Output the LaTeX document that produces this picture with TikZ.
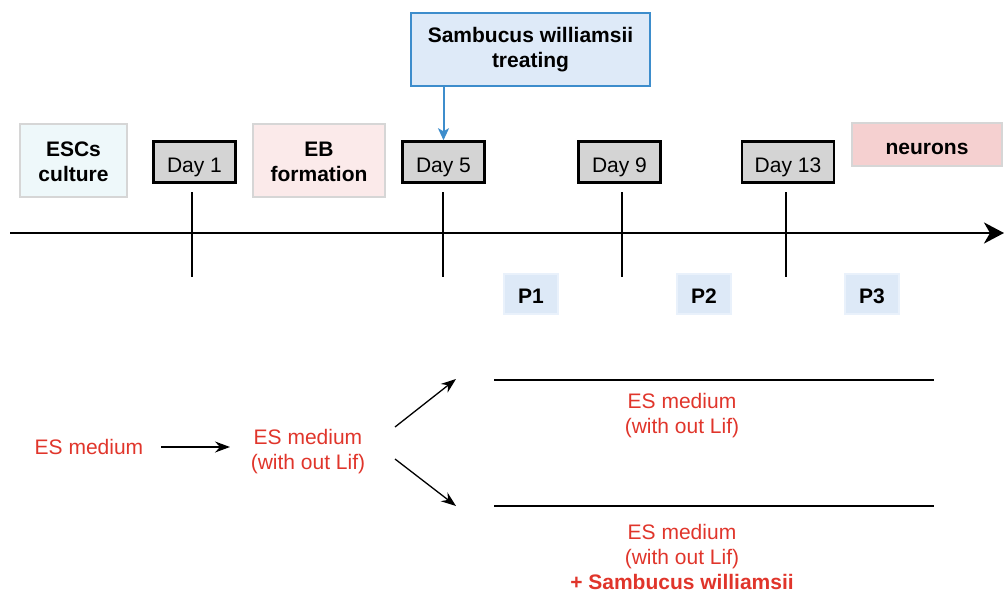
\documentclass[tikz,border=0pt]{standalone}
\usepackage{fontspec}
\setmainfont{Liberation Sans}
\usetikzlibrary{arrows.meta}
\definecolor{daygray}{HTML}{D4D4D4}
\definecolor{stageline}{HTML}{D6D6D6}
\definecolor{escfill}{HTML}{EEF8FA}
\definecolor{ebfill}{HTML}{FBEAEA}
\definecolor{neurofill}{HTML}{F5D0D0}
\definecolor{treatline}{HTML}{3D8DCC}
\definecolor{treatfill}{HTML}{DEEAF8}
\definecolor{pfill}{HTML}{DDE9F7}
\definecolor{pline}{HTML}{E9F1FB}
\definecolor{medred}{HTML}{E0352B}
\newcommand{\bigfont}{\fontsize{21}{25}\selectfont}
\tikzset{
  daybox/.style={draw=black, fill=daygray, line width=2.5pt, inner sep=0pt,
    minimum width=82pt, minimum height=41pt, text height=20pt, text depth=0pt, font=\bigfont},
  stagebox/.style={draw=stageline, line width=2.5pt, inner sep=0pt, align=center,
    font=\bfseries\bigfont},
  pbox/.style={draw=pline, fill=pfill, line width=2pt, inner sep=0pt,
    minimum width=54pt, minimum height=40pt, text height=19pt, text depth=0pt, font=\bfseries\bigfont},
  medium/.style={text=medred, align=center, inner sep=0pt, font=\bigfont},
  smallarrow/.style={line width=1.3pt, -{Stealth[length=15pt,width=11pt,inset=5pt]}},
}
\begin{document}
\begin{tikzpicture}[x=1pt,y=-1pt]
\useasboundingbox (0,0) rectangle (1004,594);
% time line
\coordinate (axisstart) at (10,233);
\coordinate (axisend) at (1004,233);
\draw[line width=2.5pt, -{Stealth[length=20pt,width=21pt,inset=6pt]}] (axisstart) -- (axisend);
\foreach \x in {192,443,622,786}
  \draw[line width=2.5pt] (\x,192) -- (\x,277);
% stages
\node[stagebox, fill=escfill, minimum width=107pt, minimum height=73pt] (esc) at (73.5,160.5) {\rule{0pt}{18pt}ESCs\\culture};
\node[stagebox, fill=ebfill, minimum width=132pt, minimum height=73pt] (eb) at (319,160.5) {\rule{0pt}{18pt}EB\\formation};
\node[stagebox, fill=neurofill, minimum width=150pt, minimum height=43pt, text height=20pt, text depth=0pt] (neuro) at (927,144.5) {neurons};
% days
\node[daybox] (day1) at (194.5,162) {Day 1};
\node[daybox] (day5) at (443.5,162) {Day 5};
\node[daybox] (day9) at (619.5,162) {Day 9};
\node[daybox, minimum width=92pt] (day13) at (788,162) {Day 13};
% passages
\node[pbox] (p1) at (531,294) {P1};
\node[pbox] (p2) at (704,294) {P2};
\node[pbox] (p3) at (872,294) {P3};
% treatment
\node[stagebox, draw=treatline, fill=treatfill, line width=2pt, minimum width=239pt, minimum height=73pt] (treat) at (530.5,49.5) {Sambucus williamsii\\treating};
\draw[treatline, line width=2pt, -{Stealth[length=12pt,width=11pt,inset=3pt]}] (treat.south -| day5.north) -- (day5.north);
% media
\node[medium] (es0) at (89,447) {ES medium};
\node[medium] (es1) at (308,452) {ES medium\\(with out Lif)};
\node[medium] (es2) at (682,416) {ES medium\\(with out Lif)};
\node[medium] (es3) at (682,557) {ES medium\\(with out Lif)\\\textbf{+ Sambucus williamsii}};
\coordinate (a0) at (161,447);
\coordinate (a1) at (230,447);
\draw[smallarrow] (a0) -- (a1);
\coordinate (up1) at (395,427);
\coordinate (up2) at (456,379);
\coordinate (dn1) at (395,459);
\coordinate (dn2) at (456,506);
\draw[smallarrow] (up1) -- (up2);
\draw[smallarrow] (dn1) -- (dn2);
\coordinate (line1a) at (494,380);
\coordinate (line1b) at (934,380);
\coordinate (line2a) at (494,506);
\coordinate (line2b) at (934,506);
\draw[line width=2.5pt] (line1a) -- (line1b);
\draw[line width=2.5pt] (line2a) -- (line2b);
\end{tikzpicture}
\end{document}
